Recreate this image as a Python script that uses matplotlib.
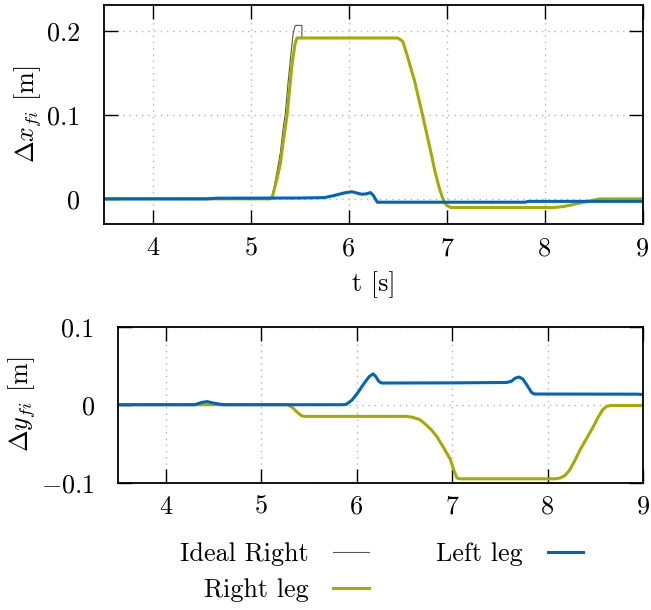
import numpy as np
import matplotlib.pyplot as plt

# colours (TUM blue / TUM green)
azul = '#0065BD'
verde = '#A2AD00'
gris = '#555555'

# --- upper plot: delta x_fi [m] ---
t_ideal = [3.5, 5.20, 5.22, 5.24, 5.27, 5.30, 5.33, 5.35, 5.38, 5.41, 5.43, 5.45, 5.46, 5.52, 5.52,
           6.50, 6.55, 6.59, 6.63, 6.67, 6.71, 6.75, 6.80, 6.84, 6.88, 6.93, 6.97, 7.00, 7.04,
           8.10, 8.20, 8.30, 8.40, 8.50, 8.56, 9.0]
x_ideal = [0, 0, 0.005, 0.016, 0.035, 0.055, 0.085, 0.101, 0.140, 0.175, 0.197, 0.206, 0.207, 0.207, 0.192,
           0.192, 0.188, 0.173, 0.157, 0.141, 0.121, 0.101, 0.075, 0.054, 0.032, 0.010, -0.003, -0.008, -0.0103,
           -0.0103, -0.009, -0.0065, -0.004, -0.0015, 0.0, 0.0]

t_der_x = [3.5, 5.20, 5.22, 5.24, 5.27, 5.30, 5.33, 5.37, 5.42, 5.45, 5.47,
           6.50, 6.55, 6.59, 6.63, 6.67, 6.71, 6.75, 6.80, 6.84, 6.88, 6.93, 6.97, 7.00, 7.04,
           8.10, 8.20, 8.30, 8.40, 8.50, 8.56, 9.0]
x_der = [0, 0, 0.003, 0.012, 0.026, 0.042, 0.068, 0.101, 0.161, 0.185, 0.192,
         0.192, 0.188, 0.173, 0.157, 0.141, 0.121, 0.101, 0.075, 0.054, 0.032, 0.010, -0.003, -0.008, -0.0103,
         -0.0103, -0.009, -0.0065, -0.004, -0.0015, 0.0, 0.0]

t_izq_x = [3.5, 4.55, 4.65, 5.5, 5.75, 5.85, 5.95, 6.03, 6.08, 6.13, 6.18, 6.22, 6.25, 6.29, 7.80, 7.83, 9.0]
x_izq = [0, 0, 0.0008, 0.001, 0.0015, 0.004, 0.007, 0.0085, 0.007, 0.0055, 0.006, 0.0075, 0.004, -0.004,
         -0.004, -0.003, -0.003]

# --- lower plot: delta y_fi [m] ---
t_izq_y = [3.5, 4.3, 4.38, 4.43, 4.5, 4.6, 5.85, 5.89, 5.95, 6.02, 6.08, 6.13, 6.17, 6.20, 6.23, 6.26,
           7.0, 7.57, 7.62, 7.66, 7.70, 7.74, 7.79, 7.83, 7.86, 8.95, 9.0]
y_izq = [0, 0, 0.003, 0.004, 0.002, 0, 0, 0.0005, 0.006, 0.017, 0.028, 0.036, 0.0395, 0.036, 0.030, 0.0278,
         0.028, 0.0285, 0.030, 0.034, 0.0355, 0.033, 0.024, 0.016, 0.0137, 0.0135, 0.013]

t_der_y = [3.5, 5.27, 5.32, 5.37, 5.42, 5.45, 6.52, 6.58, 6.66, 6.72, 6.78, 6.84, 6.91, 6.98, 7.02, 7.05, 7.08,
           8.08, 8.13, 8.18, 8.23, 8.28, 8.34, 8.41, 8.48, 8.53, 8.58, 8.62, 8.66, 9.0]
y_der = [0, 0, -0.003, -0.009, -0.014, -0.015, -0.015, -0.016, -0.019, -0.025, -0.032, -0.041, -0.055, -0.070,
         -0.085, -0.094, -0.095, -0.095, -0.094, -0.091, -0.084, -0.073, -0.058, -0.043, -0.028, -0.016, -0.006,
         -0.002, -0.001, -0.001]

plt.rcParams['font.family'] = 'serif'
plt.rcParams['font.serif'] = ['cmr10']
plt.rcParams['mathtext.fontset'] = 'cm'
plt.rcParams['axes.formatter.use_mathtext'] = True
plt.rcParams['font.size'] = 18.8

fig = plt.figure(figsize=(6.51, 6.10), dpi=100)
ax1 = fig.add_axes([0.1598, 0.6328, 0.8275, 0.3585])
ax2 = fig.add_axes([0.1817, 0.2087, 0.806, 0.2557])

l1, = ax1.plot(t_ideal, x_ideal, color=gris, lw=0.8, label='Ideal Right')
l2, = ax1.plot(t_der_x, x_der, color=verde, lw=2.2, label='Right leg')
l3, = ax1.plot(t_izq_x, x_izq, color=azul, lw=2.2, label='Left leg')

ax2.plot(t_der_y, y_der, color=verde, lw=2.2)
ax2.plot(t_izq_y, y_izq, color=azul, lw=2.2)

ax1.set_xlim(3.5, 9)
ax1.set_ylim(-0.03, 0.231)
ax1.set_yticks([0, 0.1, 0.2])
ax1.set_yticklabels(['0', '0.1', '0.2'])
ax1.set_xlabel('t [s]', labelpad=8)
ax1.set_ylabel(r'$\Delta x_{fi}$ [m]', labelpad=3)

ax2.set_xlim(3.5, 9)
ax2.set_ylim(-0.1, 0.1)
ax2.set_yticks([-0.1, 0, 0.1])
ax2.set_yticklabels([r'$-0.1$', '0', '0.1'])
ax2.set_ylabel(r'$\Delta y_{fi}$ [m]', labelpad=3)

for ax in [ax1, ax2]:
    ax.set_xticks([4, 5, 6, 7, 8, 9])
    ax.set_xticklabels(['4', '5', '6', '7', '8', '9'])
    ax.grid(True, color='#b4b4b4', linestyle=(0, (1, 3.5)), linewidth=1.0)
    ax.tick_params(direction='in', length=10, width=1.0, top=True, right=True)
    ax.tick_params(axis='x', pad=9)
    ax.tick_params(axis='y', pad=17)
    for s in ax.spines.values():
        s.set_linewidth(1.3)

fig.legend([l1, l2, l3], ['Ideal Right', 'Right leg', 'Left leg'], ncol=2, loc='center',
           bbox_to_anchor=(0.586, 0.062), frameon=False, markerfirst=False,
           handlelength=1.36, handletextpad=0.95, columnspacing=2.6, labelspacing=0.45,
           borderpad=0)

plt.savefig('out.png', dpi=100)
